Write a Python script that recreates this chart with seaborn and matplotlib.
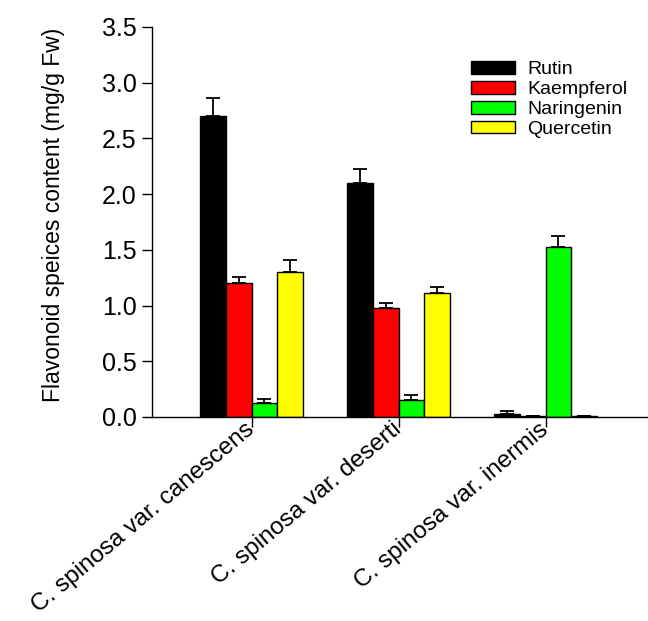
import numpy as np
import pandas as pd
import matplotlib
matplotlib.use("Agg")
import matplotlib.pyplot as plt
import seaborn as sns

# values
varieties = ["C. spinosa var. canescens", "C. spinosa var. deserti", "C. spinosa var. inermis"]
compounds = ["Rutin", "Kaempferol", "Naringenin", "Quercetin"]
rutin = [2.70, 2.10, 0.03]
kaempferol = [1.20, 0.98, 0.006]
naringenin = [0.13, 0.15, 1.53]
quercetin = [1.30, 1.11, 0.008]
rutin_err = [0.16, 0.13, 0.02]
kaempferol_err = [0.06, 0.045, 0.0]
naringenin_err = [0.03, 0.045, 0.09]
quercetin_err = [0.11, 0.06, 0.0]
colors = ["#000000", "#ff0000", "#00ff00", "#ffff00"]


def build_table():
    """Long-form table for seaborn."""
    means = [rutin, kaempferol, naringenin, quercetin]
    errs = [rutin_err, kaempferol_err, naringenin_err, quercetin_err]
    rows = []
    for comp, m, e in zip(compounds, means, errs):
        for var, val, err in zip(varieties, m, e):
            rows.append({"variety": var, "compound": comp, "value": val, "err": err})
    return pd.DataFrame(rows)


def main():
    df = build_table()
    sns.set_style("ticks")
    plt.rcParams["font.family"] = ["Liberation Sans", "DejaVu Sans"]
    plt.rcParams["text.color"] = "black"
    plt.rcParams["axes.labelcolor"] = "black"
    plt.rcParams["xtick.color"] = "black"
    plt.rcParams["ytick.color"] = "black"

    fig = plt.figure(figsize=(6.48, 6.21), dpi=100)
    ax = fig.add_axes([152 / 648, 1 - 417 / 621, 495 / 648, 390 / 621])

    sns.barplot(data=df, x="variety", y="value", hue="compound",
                order=varieties, hue_order=compounds, palette=colors,
                saturation=1, width=0.7, edgecolor="black", linewidth=1.0,
                errorbar=None, ax=ax)

    # error bars (upper only) at each bar's centre
    for container, comp in zip(ax.containers, compounds):
        sub = df[df["compound"] == comp].set_index("variety").loc[varieties]
        xs = [p.get_x() + p.get_width() / 2 for p in container.patches]
        ax.errorbar(xs, sub["value"].values,
                    yerr=[np.zeros(len(xs)), sub["err"].values],
                    fmt="none", ecolor="black", elinewidth=1.3,
                    capsize=5, capthick=1.3, zorder=1)

    ax.set_xlim(-0.677, 2.69)
    ax.set_ylim(0, 3.5)
    ax.set_yticks(np.arange(0, 3.51, 0.5))
    ax.yaxis.set_major_formatter(matplotlib.ticker.FormatStrFormatter("%.1f"))
    ax.set_xlabel("")
    ax.set_ylabel("Flavonoid speices content (mg/g Fw)", fontsize=16.5)
    ax.yaxis.set_label_coords(-0.176, 0.517)
    ax.tick_params(axis="y", labelsize=18, length=7, width=1, pad=4)
    ax.tick_params(axis="x", labelsize=17.5, length=7, width=1, pad=0)
    plt.setp(ax.get_xticklabels(), rotation=40, ha="right", va="center",
             rotation_mode="anchor")
    for side in ["top", "right"]:
        ax.spines[side].set_visible(False)
    for side in ["left", "bottom"]:
        ax.spines[side].set_color("black")
        ax.spines[side].set_linewidth(1.0)

    ax.legend(loc="upper left", bbox_to_anchor=(0.628, 0.932), frameon=False,
              fontsize=14, handlelength=2.3, handleheight=0.6,
              labelspacing=0.15, handletextpad=0.6, borderaxespad=0)

    fig.savefig("out.png", dpi=100)


if __name__ == "__main__":
    main()
